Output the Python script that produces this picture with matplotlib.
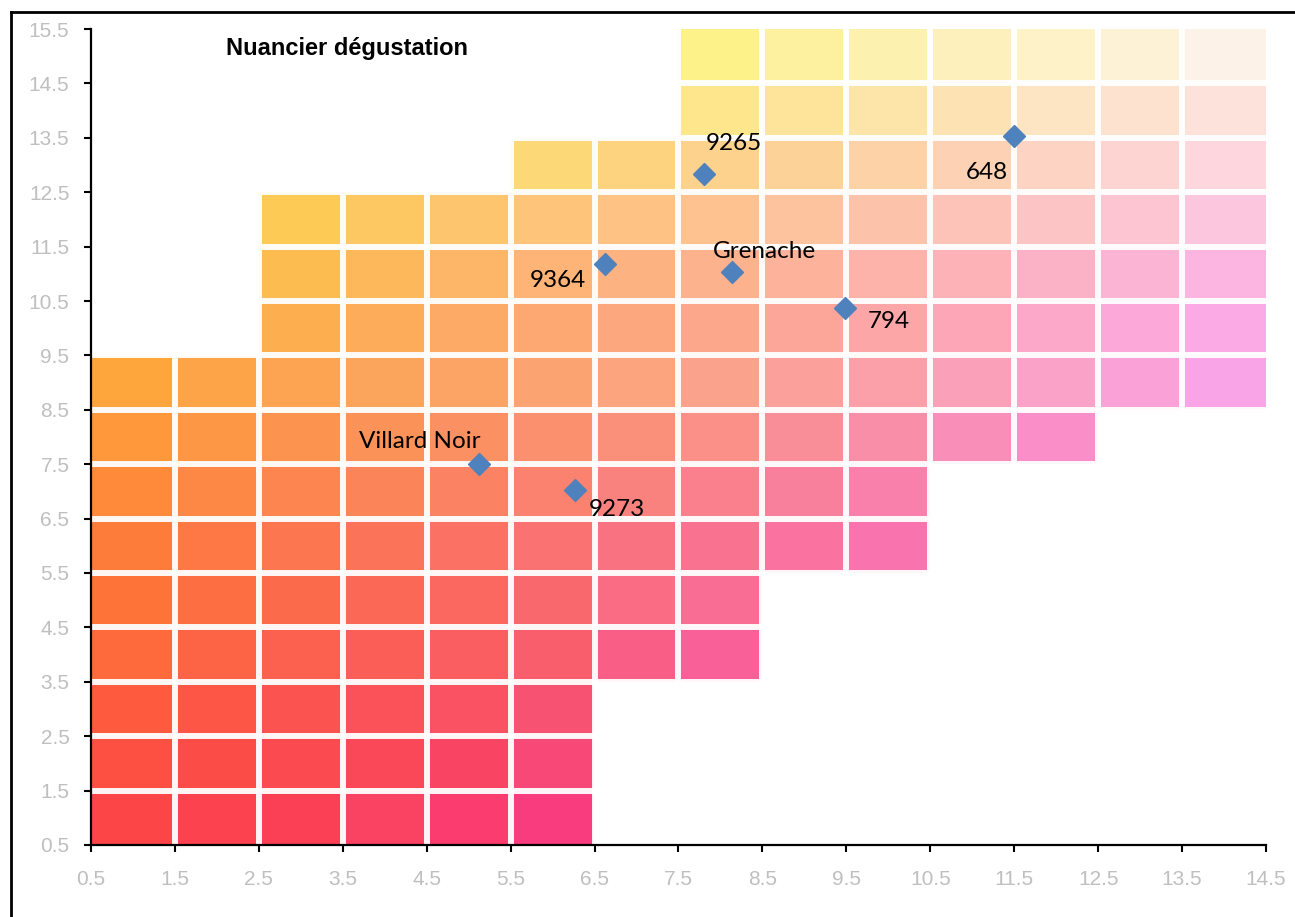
import numpy as np
import matplotlib
matplotlib.use("Agg")
import matplotlib.pyplot as plt
from matplotlib.colors import to_rgba
from matplotlib.lines import Line2D

# colour chart swatches, bottom row (y=1) first; each row starts at FIRST_COL
FIRST_COL = [1, 1, 1, 1, 1, 1, 1, 1, 1, 3, 3, 3, 6, 8, 8]
SWATCHES = [
    ["#FB4547", "#FC424E", "#FB4056", "#FA4262", "#FA3D6E", "#F83C7E"],
    ["#FD5042", "#FC4C48", "#FB4A50", "#FA4858", "#FA4464", "#F84878"],
    ["#FE5A3E", "#FD5646", "#FB5450", "#FA5258", "#FA5262", "#F85272"],
    ["#FE6A3C", "#FD6445", "#FC604F", "#FB5E57", "#FA5E60", "#F95E6C", "#F95E86", "#F96098"],
    ["#FE7438", "#FD6E42", "#FC6A4C", "#FB6856", "#FA6860", "#F9686C", "#F96C84", "#F96C94"],
    ["#FE7C3A", "#FD7844", "#FC764F", "#FB7459", "#FB7264", "#FA7272", "#F97282", "#F97290",
     "#F972A0", "#F974AE"],
    ["#FE8A3A", "#FD8745", "#FC8550", "#FB8458", "#FB8262", "#FA826E", "#FA827E", "#F9808C",
     "#F9809C", "#F980AA"],
    ["#FE983A", "#FD9645", "#FC934F", "#FB9258", "#FB9062", "#FA906E", "#FA907A", "#FA9088",
     "#F98E98", "#F98EA8", "#F98EB8", "#F98EC8"],
    ["#FEA63C", "#FDA448", "#FCA452", "#FBA45C", "#FBA466", "#FBA472", "#FBA47E", "#FBA28C",
     "#FBA09A", "#FBA0A8", "#FAA0B8", "#FAA2C8", "#FAA2D8", "#FAA4E8"],
    ["#FDAF4F", "#FDAC5A", "#FDAA66", "#FDA872", "#FDA77F", "#FCA68C", "#FCA69A", "#FCA6A8",
     "#FCA6B8", "#FCA8C8", "#FCA8D8", "#FCAAE6"],
    ["#FDBC50", "#FDB85C", "#FDB668", "#FDB476", "#FDB282", "#FDB28E", "#FDB29C", "#FDB2AA",
     "#FDB2B8", "#FCB2C6", "#FCB4D4", "#FCB4E0"],
    ["#FDCB55", "#FDC862", "#FDC66E", "#FDC47A", "#FDC284", "#FDC290", "#FDC29E", "#FDC2AA",
     "#FDC2B8", "#FDC4C6", "#FDC4D2", "#FCC6DE"],
    ["#FDD876", "#FDD380", "#FDD28C", "#FDD298", "#FDD2A6", "#FDD2B4", "#FDD4C4", "#FDD4D2",
     "#FDD6DE"],
    ["#FDE68C", "#FDE49A", "#FDE4A8", "#FDE2B4", "#FDE4C2", "#FDE2D0", "#FDE2DC"],
    ["#FDF28A", "#FDF1A0", "#FDF1B0", "#FDF0BC", "#FDF2C8", "#FDF2D6", "#FCF2E8"],
]

# tasted wines
names = ["Villard Noir", "9273", "9364", "9265", "Grenache", "794", "648"]
x_vals = [5.12, 6.27, 6.62, 7.8, 8.14, 9.48, 11.5]
y_vals = [7.5, 7.02, 11.18, 12.84, 11.03, 10.37, 13.53]

x_ticks = np.arange(0.5, 14.6, 1.0)
y_ticks = np.arange(0.5, 15.6, 1.0)

# label placement (offset points, horizontal alignment)
label_pos = [(1.5, 16.5, "right"), (10, -13.7, "left"), (-13.7, -12.2, "right"),
             (1.5, 21.6, "left"), (-13.7, 15, "left"), (16.5, -10, "left"),
             (-4.3, -26, "right")]

fig = plt.figure(figsize=(12.95, 9.17), dpi=100)
ax = fig.add_axes([91 / 1295, 1 - 845 / 917, 1175 / 1295, 816 / 917])

# build the swatch image
n_rows, n_cols = len(SWATCHES), 14
img = np.zeros((n_rows, n_cols, 4))
for r, (c0, row) in enumerate(zip(FIRST_COL, SWATCHES)):
    for k, h in enumerate(row):
        img[r, c0 - 1 + k] = to_rgba(h)
ax.imshow(img, extent=(0.5, 14.5, 0.5, 15.5), origin="lower", aspect="auto",
          interpolation="nearest", zorder=1)

# white gaps between swatches
ax.vlines(np.arange(1.5, 14.5, 1.0), 0.5, 15.5, colors="white", linewidth=4.3,
          alpha=0.95, zorder=1.5)
ax.hlines(np.arange(1.5, 15.5, 1.0), 0.5, 14.5, colors="white", linewidth=4.3,
          alpha=0.95, zorder=1.5)

ax.plot(x_vals, y_vals, linestyle="none", marker="D", markersize=11,
        color="#4F81BD", zorder=3)
for name, xv, yv, (dx, dy, ha) in zip(names, x_vals, y_vals, label_pos):
    ax.annotate(name, (xv, yv), xytext=(dx, dy), textcoords="offset points",
                ha=ha, va="center", fontsize=17.5, family="Lato", color="black",
                zorder=4)

ax.set_xlim(0.5, 14.5)
ax.set_ylim(0.5, 15.5)
ax.set_xticks(x_ticks)
ax.set_yticks(y_ticks)
ax.set_xticklabels([f"{v:.1f}" for v in x_ticks])
ax.set_yticklabels([f"{v:.1f}" for v in y_ticks])
for lab in ax.get_xticklabels() + ax.get_yticklabels():
    lab.set_family("Liberation Sans")
ax.tick_params(axis="both", direction="out", length=5, width=1.5, color="black",
               labelsize=15, labelcolor="#BFBFBF")
ax.tick_params(axis="x", pad=13)
ax.tick_params(axis="y", pad=10.5)
for side in ["top", "right"]:
    ax.spines[side].set_visible(False)
for side in ["left", "bottom"]:
    ax.spines[side].set_linewidth(1.6)
    ax.spines[side].set_color("black")
    ax.spines[side].set_zorder(5)

fig.text(226 / 1295, 1 - 55 / 917, "Nuancier dégustation", fontsize=17,
         fontweight="bold", family="Liberation Sans", ha="left", va="baseline")

# outer chart frame (runs off the picture at right and bottom)
fig.add_artist(Line2D([11 / 1295, 11 / 1295], [0, 1 - 12 / 917], color="black",
                      linewidth=2, transform=fig.transFigure))
fig.add_artist(Line2D([11 / 1295, 1], [1 - 12 / 917, 1 - 12 / 917], color="black",
                      linewidth=2, transform=fig.transFigure))

fig.savefig("out.png", dpi=100)
